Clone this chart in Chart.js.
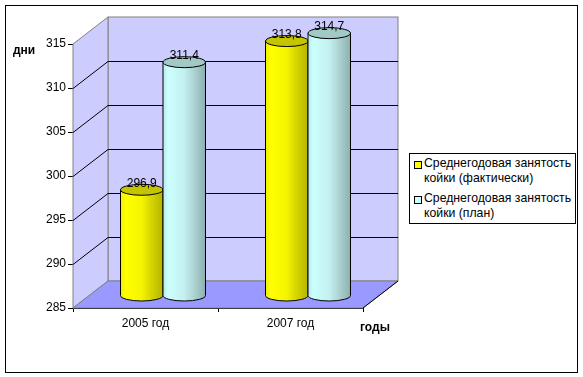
<!DOCTYPE html>
<html lang="ru">
<head>
<meta charset="utf-8">
<title>Среднегодовая занятость койки</title>
<script src="https://cdn.jsdelivr.net/npm/chart.js@4"></script>
<style>
    html, body { margin: 0; padding: 0; background: #fff; }
    #wrap { position: relative; width: 583px; height: 377px; overflow: hidden; }
    #frame { position: absolute; left: 5px; top: 5px; width: 571px; height: 366px; border: 1px solid #000; }
    canvas { position: absolute; left: 0; top: 0; }
    #legend {
        position: absolute; left: 409px; top: 153px; width: 165px; height: 69px;
        border: 1px solid #000; background: #fff;
        font: 12.25px "Liberation Sans", Arial, sans-serif; color: #000;
    }
    #legend div { position: absolute; left: 14px; width: 150px; line-height: 15px; white-space: nowrap; }
    #legend i { position: absolute; left: -10px; top: 5px; width: 6px; height: 6px; border: 1px solid #000; }
</style>
</head>
<body>
<div id="wrap">
    <div id="frame"></div>
    <canvas id="chart" width="583" height="377"></canvas>
    <div id="legend"></div>
</div>
<script>
    const years = ["2005 год", "2007 год"];
    const actual = [296.9, 313.8];
    const plan = [311.4, 314.7];
    const seriesNames = ["Среднегодовая занятость койки (фактически)", "Среднегодовая занятость койки (план)"];
    const seriesColors = ["#ffff00", "#ccffff"];
    const yMin = 285;
    const yMax = 315;
    const yStep = 5;

    // depth of the fake 3d box
    const depthX = 35;
    const depthY = 27;
    const capRy = 5.5;

    const cylinderShades = [
        { cap: "#c4c400", stops: ["#eeee00", "#ffff00", "#f4f400", "#d6d600", "#b4b400"] },
        { cap: "#a3c9c6", stops: ["#b8e8e8", "#ccffff", "#c4f0f0", "#aed4d4", "#8cb0b0"] }
    ];

    function drawBox(ctx, area, yScale) {
        const l = area.left, r = area.right, t = area.top, b = area.bottom;
        ctx.save();
        ctx.lineWidth = 1;
        ctx.strokeStyle = "#808080";

        ctx.fillStyle = "#ccccff";
        ctx.fillRect(l + depthX, t - depthY, r - l, b - t);
        ctx.strokeRect(l + depthX, t - depthY, r - l, b - t);

        ctx.beginPath();
        ctx.moveTo(l, t);
        ctx.lineTo(l + depthX, t - depthY);
        ctx.lineTo(l + depthX, b - depthY);
        ctx.lineTo(l, b);
        ctx.closePath();
        ctx.fill();
        ctx.stroke();

        ctx.fillStyle = "#9999ff";
        ctx.beginPath();
        ctx.moveTo(l, b);
        ctx.lineTo(l + depthX, b - depthY);
        ctx.lineTo(r + depthX, b - depthY);
        ctx.lineTo(r, b);
        ctx.closePath();
        ctx.fill();
        ctx.stroke();

        ctx.strokeStyle = "#000";
        ctx.beginPath();
        ctx.moveTo(r, b);
        ctx.lineTo(r + depthX, b - depthY);
        for (let v = yMin + yStep; v < yMax; v += yStep) {
            const y = Math.round(yScale.getPixelForValue(v)) + 0.5;
            ctx.moveTo(l, y);
            ctx.lineTo(l + depthX, y - depthY);
            ctx.lineTo(r + depthX, y - depthY);
        }
        ctx.stroke();
        ctx.restore();
    }

    function drawCylinder(ctx, bar, baseY, shade) {
        const x0 = bar.x - bar.width / 2 + depthX / 2;
        const x1 = x0 + bar.width;
        const cx = (x0 + x1) / 2;
        const rx = bar.width / 2;
        const topY = bar.y - depthY / 2;

        const grad = ctx.createLinearGradient(x0, 0, x1, 0);
        shade.stops.forEach(function (c, i) {
            grad.addColorStop([0, 0.12, 0.5, 0.72, 1][i], c);
        });

        ctx.save();
        ctx.lineWidth = 1;
        ctx.strokeStyle = "#000";
        ctx.fillStyle = grad;
        ctx.beginPath();
        ctx.moveTo(x0, topY);
        ctx.lineTo(x0, baseY);
        ctx.ellipse(cx, baseY, rx, capRy, 0, Math.PI, 0, true);
        ctx.lineTo(x1, topY);
        ctx.closePath();
        ctx.fill();
        ctx.stroke();

        ctx.fillStyle = shade.cap;
        ctx.beginPath();
        ctx.ellipse(cx, topY, rx, capRy, 0, 0, Math.PI * 2);
        ctx.fill();
        ctx.stroke();
        ctx.restore();
    }

    const box3d = {
        id: "box3d",
        beforeDatasetsDraw: function (chart) {
            drawBox(chart.ctx, chart.chartArea, chart.scales.y);
        },
        afterDatasetsDraw: function (chart) {
            const ctx = chart.ctx;
            const baseY = chart.scales.y.getPixelForValue(yMin) - depthY / 2 + 1;
            chart.data.datasets.forEach(function (ds, i) {
                chart.getDatasetMeta(i).data.forEach(function (bar) {
                    drawCylinder(ctx, bar, baseY, cylinderShades[i]);
                });
            });

            ctx.save();
            ctx.fillStyle = "#000";
            ctx.font = '12px "Liberation Sans", Arial, sans-serif';
            ctx.textAlign = "center";
            ctx.textBaseline = "middle";
            chart.data.datasets.forEach(function (ds, i) {
                chart.getDatasetMeta(i).data.forEach(function (bar, j) {
                    const label = ds.data[j].toFixed(1).replace(".", ",");
                    ctx.fillText(label, bar.x + depthX / 2, bar.y - depthY / 2 - 6.5);
                });
            });

            ctx.font = 'bold 12px "Liberation Sans", Arial, sans-serif';
            ctx.textAlign = "left";
            ctx.fillText("дни", 13, 51);
            ctx.fillText("годы", 360, 328);
            ctx.restore();
        }
    };

    new Chart(document.getElementById("chart").getContext("2d"), {
        type: "bar",
        data: {
            labels: years,
            datasets: [
                { label: seriesNames[0], data: actual, backgroundColor: "transparent" },
                { label: seriesNames[1], data: plan, backgroundColor: "transparent" }
            ]
        },
        plugins: [box3d],
        options: {
            responsive: false,
            animation: false,
            layout: { padding: { left: 0, top: 44, right: 220, bottom: 0 } },
            datasets: { bar: { categoryPercentage: 0.586, barPercentage: 1 } },
            font: { family: '"Liberation Sans", Arial, sans-serif', size: 12 },
            scales: {
                x: {
                    afterFit: function (s) { s.height = 69; },
                    border: { color: "#000", width: 1 },
                    grid: { drawOnChartArea: false, color: "#000", tickLength: 4 },
                    ticks: { color: "#000", padding: 4, font: { size: 12 }, maxRotation: 0 }
                },
                y: {
                    min: yMin,
                    max: yMax,
                    afterFit: function (s) { s.width = 73; },
                    border: { color: "#000", width: 1 },
                    grid: { drawOnChartArea: false, color: "#000", tickLength: 5 },
                    ticks: { color: "#000", stepSize: yStep, padding: 2, font: { size: 12 } }
                }
            },
            plugins: {
                legend: { display: false },
                tooltip: { enabled: false }
            }
        }
    });

    // html legend, the canvas one can't wrap long labels
    const legendTops = [2, 37];
    const legend = document.getElementById("legend");
    seriesNames.forEach(function (name, i) {
        const row = document.createElement("div");
        row.style.top = legendTops[i] + "px";
        const swatch = document.createElement("i");
        swatch.style.background = seriesColors[i];
        row.appendChild(swatch);
        const parts = name.split(" койки ");
        row.appendChild(document.createTextNode(parts[0]));
        row.appendChild(document.createElement("br"));
        row.appendChild(document.createTextNode("койки " + parts[1]));
        legend.appendChild(row);
    });
</script>
</body>
</html>
